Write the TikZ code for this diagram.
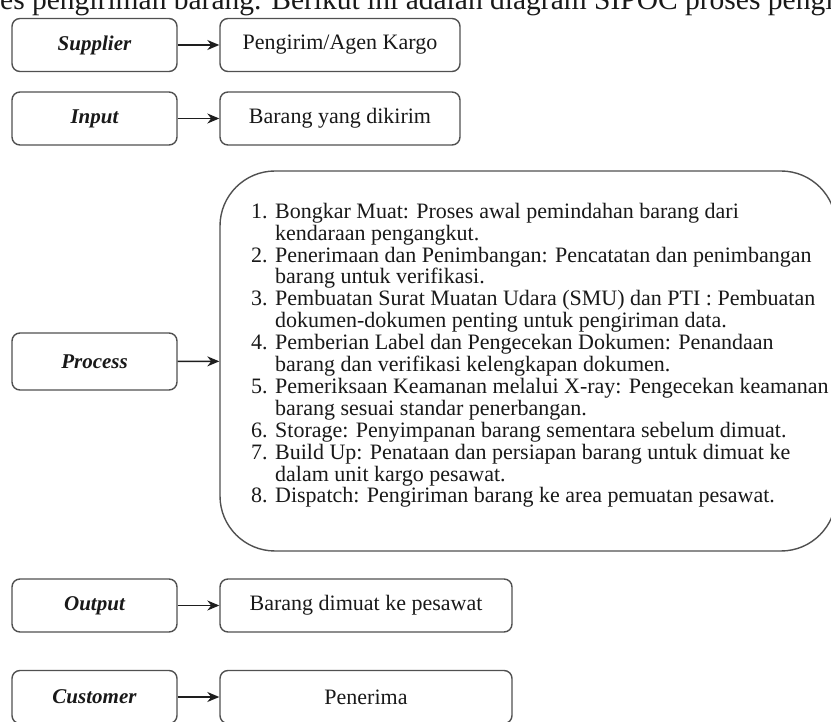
\documentclass[tikz,border=0pt]{standalone}
\usepackage{fontspec}
\setmainfont{Liberation Serif}
\usetikzlibrary{arrows.meta}
\definecolor{boxgray}{RGB}{80,80,80}
\definecolor{arrowgray}{RGB}{30,30,30}
\definecolor{txt}{RGB}{25,25,25}
\newcommand{\lnum}[1]{\makebox[24pt][l]{#1}}
\begin{document}
\begin{tikzpicture}[x=1pt,y=1pt,
  lbox/.style={draw=boxgray, line width=1.4pt, rounded corners=8pt, minimum width=165pt, minimum height=53pt, inner sep=0pt, text=txt, font=\fontsize{21}{25}\selectfont\bfseries\itshape},
  rbox/.style={draw=boxgray, line width=1.4pt, rounded corners=8pt, minimum height=53pt, inner sep=0pt, text=txt, font=\fontsize{22}{26}\selectfont},
  bigbox/.style={draw=boxgray, line width=1.4pt, rounded corners=55pt, minimum width=616pt, minimum height=380pt, inner sep=0pt},
  conn/.style={draw=arrowgray, line width=1.4pt, -{Stealth[length=12pt,width=10pt]}}]
\useasboundingbox (0,0) rectangle (831,-722);
\clip (0,0) rectangle (831,-722);
\fill[white] (0,0) rectangle (831,-722);
\node[anchor=base west, inner sep=0pt, text=txt, font=\fontsize{29.5}{34}\selectfont] (intro) at (0,-10) {es pengiriman barang. Berikut ini adalah diagram SIPOC proses pengi};
\node[lbox] (sup) at (94.5,-45) {Supplier};
\node[rbox, minimum width=240pt] (supr) at (340,-45) {Pengirim/Agen Kargo};
\node[lbox] (inp) at (94.5,-118.5) {Input};
\node[rbox, minimum width=240pt] (inpr) at (340,-118.5) {Barang yang dikirim};
\node[lbox, minimum height=57pt] (pro) at (94.5,-361.5) {Process};
\node[bigbox] (prob) at (528,-361) {};
\node[anchor=north west, inner sep=0pt, align=left, text=txt, font=\fontsize{22}{21.9}\selectfont] (plist) at (251,-202) {%
\rule{0pt}{16pt}\lnum{1.}Bongkar Muat: Proses awal pemindahan barang dari\\
\lnum{}kendaraan pengangkut.\\
\lnum{2.}Penerimaan dan Penimbangan: Pencatatan dan penimbangan\\
\lnum{}barang untuk verifikasi.\\
\lnum{3.}Pembuatan Surat Muatan Udara (SMU) dan PTI : Pembuatan\\
\lnum{}dokumen-dokumen penting untuk pengiriman data.\\
\lnum{4.}Pemberian Label dan Pengecekan Dokumen: Penandaan\\
\lnum{}barang dan verifikasi kelengkapan dokumen.\\
\lnum{5.}Pemeriksaan Keamanan melalui X-ray: Pengecekan keamanan\\
\lnum{}barang sesuai standar penerbangan.\\
\lnum{6.}Storage: Penyimpanan barang sementara sebelum dimuat.\\
\lnum{7.}Build Up: Penataan dan persiapan barang untuk dimuat ke\\
\lnum{}dalam unit kargo pesawat.\\
\lnum{8.}Dispatch: Pengiriman barang ke area pemuatan pesawat.};
\node[lbox] (out) at (94.5,-605.5) {Output};
\node[rbox, minimum width=292pt] (outr) at (366,-605.5) {Barang dimuat ke pesawat};
\node[lbox] (cus) at (94.5,-697) {Customer};
\node[rbox, minimum width=292pt] (cusr) at (366,-697) {Penerima};
\draw[conn] (sup) -- (supr);
\draw[conn] (inp) -- (inpr);
\draw[conn] (pro) -- (prob);
\draw[conn] (out) -- (outr);
\draw[conn] (cus) -- (cusr);
\end{tikzpicture}
\end{document}
